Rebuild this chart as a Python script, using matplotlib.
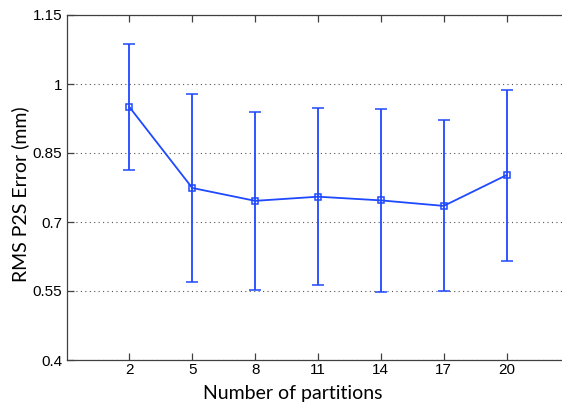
import matplotlib
matplotlib.use("Agg")
import matplotlib.pyplot as plt

# Mean RMS point-to-surface error and its standard deviation per partition count
partitions = [2, 5, 8, 11, 14, 17, 20]
rms_error = [0.950, 0.774, 0.746, 0.755, 0.747, 0.735, 0.802]
rms_std = [0.136, 0.204, 0.194, 0.193, 0.199, 0.186, 0.186]
y_ticks = [0.4, 0.55, 0.7, 0.85, 1.0, 1.15]
y_tick_labels = ["0.4", "0.55", "0.7", "0.85", "1", "1.15"]

W, H = 562, 405
fig = plt.figure(figsize=(W / 100, H / 100), dpi=100)
left, right, top, bottom = 66.5, 569.5, 15, 360
ax = fig.add_axes([left / W, (H - bottom) / H, (right - left) / W, (bottom - top) / H])

blue = "#1f49ff"
ax.errorbar(partitions, rms_error, yerr=rms_std, color=blue, lw=1.3,
            marker="s", markersize=4, markerfacecolor="none", markeredgewidth=1.1,
            capsize=4, capthick=1.3, elinewidth=1.3, zorder=3)

ax.set_xlim(-1, 23)
ax.set_ylim(0.4, 1.15)
ax.set_xticks(partitions)
ax.set_yticks(y_ticks)
ax.set_yticklabels(y_tick_labels)

ax.yaxis.grid(True, linestyle=(0, (1, 3)), color="#555555", lw=0.8)
ax.set_axisbelow(True)

for s in ax.spines.values():
    s.set_color("#404040")
    s.set_linewidth(0.9)

ax.tick_params(direction="in", length=5, width=0.9, color="#404040",
               top=True, right=True, labelsize=11)
ax.tick_params(axis="y", pad=3)
ax.tick_params(axis="x", pad=2.5)
for lab in ax.get_xticklabels() + ax.get_yticklabels():
    lab.set_fontfamily("Liberation Sans")

label_font = {"family": "Lato", "size": 14}
fig.text(293 / W, 1 - 393 / H, "Number of partitions", ha="center", va="center",
         fontdict=label_font)
fig.text(20 / W, 1 - 194 / H, "RMS P2S Error (mm)", ha="center", va="center",
         rotation=90, fontdict=label_font)

fig.savefig("out.png", dpi=100)
